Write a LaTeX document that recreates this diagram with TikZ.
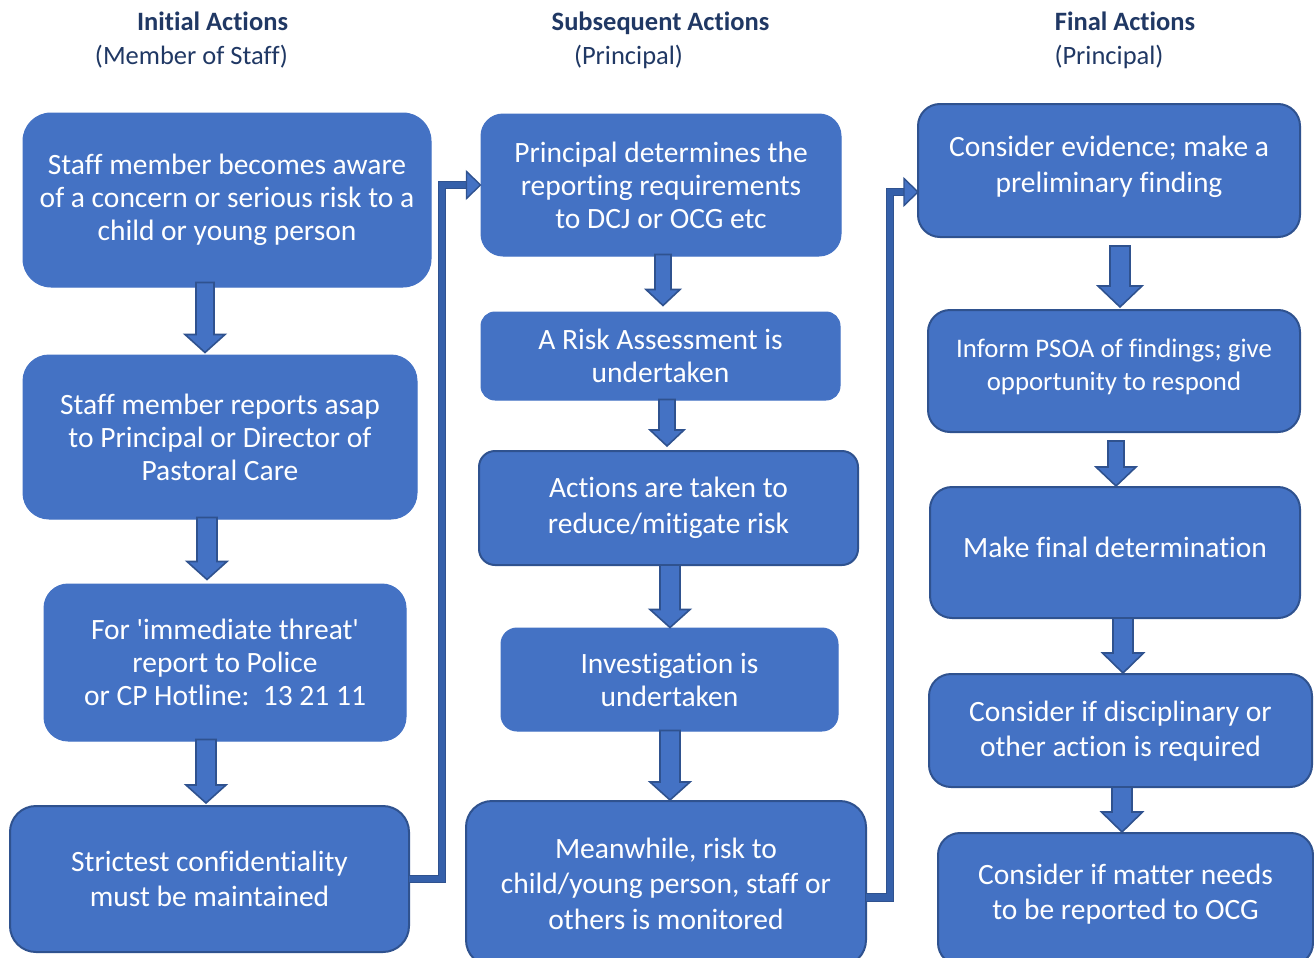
\documentclass[tikz,border=0pt]{standalone}
\usepackage{fontspec}
\setmainfont{Carlito}[Ligatures=NoCommon]
\usetikzlibrary{calc}
\definecolor{boxblue}{HTML}{4472C4}
\definecolor{boxline}{HTML}{2F528F}
\definecolor{navy}{HTML}{203864}
\definecolor{elbowfill}{HTML}{3560AA}
\tikzset{
 box/.style={rounded corners=22pt, fill=boxblue, draw=boxblue, line width=1pt, text=white, align=center, inner sep=0pt, font=\fontsize{29.5}{33}\selectfont},
 boxd/.style={box, draw=boxline, line width=2pt},
 wide/.style={font=\fontsize{29.5}{35.5}\selectfont},
 title/.style={text=navy, font=\fontsize{26.5}{30}\selectfont\bfseries, anchor=base},
 subtitle/.style={text=navy, font=\fontsize{26.5}{30}\selectfont, anchor=base},
 ltext/.style={text=white, align=center, inner sep=0pt},
 barrow/.style={fill=boxblue, draw=boxline, line width=1.6pt, line join=miter},
 elbow/.style={draw=boxline, line width=1.2pt, double=elbowfill, double distance=6.5pt},
 ehead/.style={fill=boxblue, draw=boxline, line width=1.4pt, line join=miter},
}
% #1 shaft half width, #2 head half width, #3 head length, #4 start, #5 tip
\newcommand{\bdarrow}[5]{%
 \draw[barrow] let \p1=#4, \p2=#5 in
  (\x1-#1pt,\y1) -- (\x1+#1pt,\y1) -- (\x1+#1pt,\y2+#3pt) -- (\x1+#2pt,\y2+#3pt)
  -- (\x1,\y2) -- (\x1-#2pt,\y2+#3pt) -- (\x1-#1pt,\y2+#3pt) -- cycle;}
\begin{document}
\begin{tikzpicture}[x=1pt,y=-1pt]
\useasboundingbox (0,0) rectangle (1314,958);

% titles
\node[title] (t1) at (212.5,31) {Initial Actions};
\node[subtitle] (s1) at (191.5,64) {(Member of Staff)};
\node[title] (t2) at (660.5,31) {Subsequent Actions};
\node[subtitle] (s2) at (628.5,64) {(Principal)};
\node[title] (t3) at (1125,31) {Final Actions};
\node[subtitle] (s3) at (1109,64) {(Principal)};

% left column
\node[box, rounded corners=28pt, minimum width=408pt, minimum height=174pt] (l1) at (227,200)
 {Staff member becomes aware\\of a concern or serious risk to a\\child or young person};
\node[box, rounded corners=26pt, minimum width=394pt, minimum height=164pt] (l2) at (220,437)
 {Staff member reports asap\\to Principal or Director of\\Pastoral Care};
\node[box, rounded corners=24pt, minimum width=362pt, minimum height=157pt] (l3) at (225,662.5)
 {For \textquotesingle immediate threat\textquotesingle\\report to Police\\or CP Hotline:\ \ 13 21 11};
\node[boxd, wide, rounded corners=26pt, minimum width=399pt, minimum height=146pt] (l4) at (209.5,879)
 {Strictest confidentiality\\must be maintained};

% middle column
\node[box, minimum width=360pt, minimum height=142pt] (m1) at (661,185)
 {Principal determines the\\reporting requirements\\to DCJ or OCG etc};
\node[box, rounded corners=14pt, minimum width=359pt, minimum height=88pt] (m2) at (660.5,356)
 {A Risk Assessment is\\undertaken};
\node[boxd, wide, rounded corners=16pt, minimum width=379pt, minimum height=114pt] (m3) at (668.5,508)
 {Actions are taken to\\reduce/mitigate risk};
\node[box, rounded corners=16pt, minimum width=337pt, minimum height=103pt] (m4) at (669.5,679.5)
 {Investigation is\\undertaken};
\node[boxd, wide, rounded corners=26pt, minimum width=400pt, minimum height=165pt] (m5) at (666,883.5)
 {Meanwhile, risk to\\child/young person, staff or\\others is monitored};

% right column
\node[boxd, minimum width=382pt, minimum height=133pt,
 label={[ltext, font=\fontsize{29.5}{35.5}\selectfont, yshift=3.5pt]center:{Consider evidence; make a\\preliminary finding}}] (r1) at (1109,170.5) {};
\node[boxd, minimum width=372pt, minimum height=122pt,
 label={[ltext, font=\fontsize{26.8}{33}\selectfont, yshift=4.5pt]center:{Inform PSOA of findings; give\\opportunity to respond}}] (r2) at (1114,371) {};
\node[boxd, minimum width=370pt, minimum height=131pt,
 label={[ltext, font=\fontsize{29.5}{35.5}\selectfont, yshift=5.5pt]center:{Make final determination}}] (r3) at (1115,552.5) {};
\node[boxd, minimum width=383pt, minimum height=113pt,
 label={[ltext, font=\fontsize{29.5}{35.5}\selectfont, yshift=-0.5pt]center:{Consider if disciplinary or\\other action is required}}] (r4) at (1120.5,730.5) {};
\node[boxd, minimum width=375pt, minimum height=132pt,
 label={[ltext, font=\fontsize{29.5}{35.5}\selectfont, yshift=5pt]center:{Consider if matter needs\\to be reported to OCG}}] (r5) at (1125.5,899) {};

% down arrows
\bdarrow{9}{20}{18}{([xshift=-22pt,yshift=5pt]l1.south)}{([yshift=2pt]l2.north)}
\bdarrow{10}{20}{18}{([xshift=-13pt,yshift=2pt]l2.south)}{([yshift=4pt]l3.north)}
\bdarrow{10}{20}{18}{([xshift=-19pt,yshift=2pt]l3.south)}{([yshift=2pt]l4.north)}
\bdarrow{8}{17}{16}{([xshift=2pt,yshift=2pt]m1.south)}{([yshift=6pt]m2.north)}
\bdarrow{8}{17}{16}{([xshift=6.5pt,yshift=1pt]m2.south)}{([yshift=4pt]m3.north)}
\bdarrow{10}{20}{18}{([xshift=1.5pt,yshift=1pt]m3.south)}{(m4.north)}
\bdarrow{10}{20}{18}{([xshift=0.5pt,yshift=1pt]m4.south)}{(m5.north)}
\bdarrow{10}{22}{21}{([xshift=11pt,yshift=-8pt]r1.south)}{([yshift=2pt]r2.north)}
\bdarrow{8}{20}{19}{([xshift=2pt,yshift=-8pt]r2.south)}{(r3.north)}
\bdarrow{10}{20.5}{20}{([xshift=8pt,yshift=1pt]r3.south)}{(r4.north)}
\bdarrow{10}{20.5}{20}{([xshift=1.5pt,yshift=1pt]r4.south)}{(r5.north)}

% elbow connectors
\draw[elbow] ([xshift=-1pt]l4.east) -- ++(33,0) |- ([xshift=-13pt]m1.west);
\draw[ehead] ([xshift=-14pt,yshift=13.5pt]m1.west) -- (m1.west) -- ([xshift=-14pt,yshift=-13.5pt]m1.west) -- cycle;
\draw[elbow] ([xshift=-1pt,yshift=-14pt]m5.east) -- ++(24,0) |- ([xshift=-12pt,yshift=-21.5pt]r1.west);
\draw[ehead] ([xshift=-13pt,yshift=-8pt]r1.west) -- ([xshift=1pt,yshift=-21.5pt]r1.west) -- ([xshift=-13pt,yshift=-35pt]r1.west) -- cycle;
\end{tikzpicture}
\end{document}
